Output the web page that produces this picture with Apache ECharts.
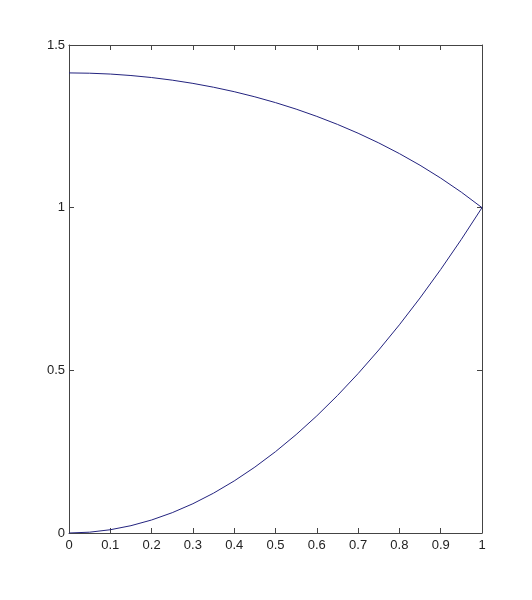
<!DOCTYPE html>
<html><head><meta charset="utf-8">
<script src="https://cdn.jsdelivr.net/npm/echarts@6/dist/echarts.min.js"></script>
<style>html,body{margin:0;padding:0;background:#fff}#c{width:532px;height:600px}</style>
</head><body><div id="c"></div>
<script>
var xValues = [0,0.05,0.1,0.15,0.2,0.25,0.3,0.35,0.4,0.45,0.5,0.55,0.6,0.65,0.7,0.75,0.8,0.85,0.9,0.95,1];
var upperCurve = [1.4142,1.4133,1.4107,1.4062,1.4000,1.3919,1.3820,1.3702,1.3565,1.3407,1.3229,1.3029,1.2806,1.2560,1.2288,1.1990,1.1662,1.1303,1.0909,1.0476,1.0000];
var lowerCurve = [0,0.0025,0.01,0.0225,0.04,0.0625,0.09,0.1225,0.16,0.2025,0.25,0.3025,0.36,0.4225,0.49,0.5625,0.64,0.7225,0.81,0.9025,1.0];
var xTicks = [0,0.1,0.2,0.3,0.4,0.5,0.6,0.7,0.8,0.9,1];
var yTicks = [0,0.5,1,1.5];

function pairs(xs, ys){ return xs.map(function(x,i){return [x, ys[i]];}); }

var chart = echarts.init(document.getElementById('c'), null, {renderer:'canvas'});
var axisLine = {show:true, onZero:false, lineStyle:{color:'#444', width:1}};
var tick = {show:true, inside:true, length:5, lineStyle:{color:'#444'}};
var lbl = {color:'#222', fontSize:13, fontFamily:'Liberation Sans, Arial, sans-serif'};
chart.setOption({
  animation:false,
  backgroundColor:'#fff',
  grid:{left:69, right:50, top:45, bottom:67, containLabel:false},
  xAxis:[
    {type:'value', min:xTicks[0], max:xTicks[xTicks.length-1], interval:0.1, position:'bottom',
     axisLine:axisLine, axisTick:tick, splitLine:{show:false},
     axisLabel:Object.assign({margin:6, formatter:function(v){return String(Math.round(v*10)/10);}}, lbl)},
    {type:'value', min:0, max:1, interval:0.1, position:'top',
     axisLine:axisLine, axisTick:tick, splitLine:{show:false}, axisLabel:{show:false}}
  ],
  yAxis:[
    {type:'value', min:yTicks[0], max:yTicks[yTicks.length-1], interval:0.5, position:'left',
     axisLine:axisLine, axisTick:tick, splitLine:{show:false},
     axisLabel:Object.assign({margin:4}, lbl)},
    {type:'value', min:0, max:1.5, interval:0.5, position:'right',
     axisLine:axisLine, axisTick:tick, splitLine:{show:false}, axisLabel:{show:false}}
  ],
  series:[
    {type:'line', data:pairs(xValues, upperCurve), showSymbol:false, smooth:false,
     lineStyle:{color:'#23237f', width:1}},
    {type:'line', data:pairs(xValues, lowerCurve), showSymbol:false, smooth:false,
     lineStyle:{color:'#23237f', width:1}}
  ]
});
</script></body></html>
